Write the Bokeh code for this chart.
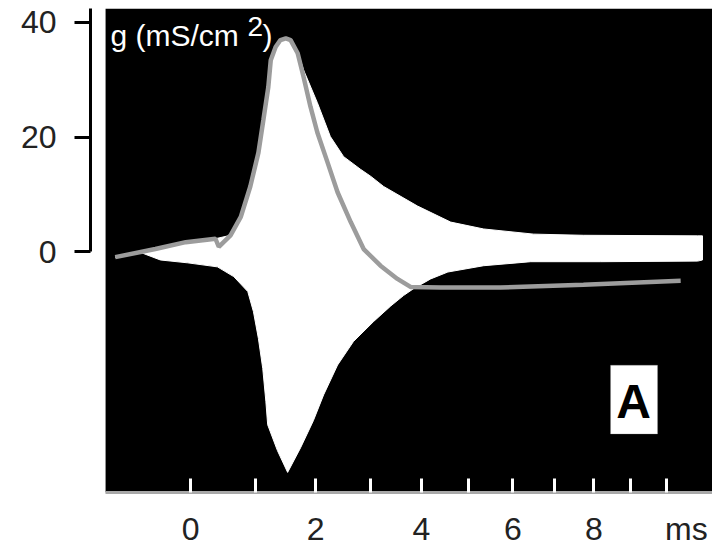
from bokeh.plotting import figure
from bokeh.models import Range1d, FixedTicker, BoxAnnotation, Label
from bokeh.embed import file_html
from bokeh.resources import INLINE

# ---------------- data (time in ms, conductance in mS/cm^2) ----------------
# gray trace: g(t)
g_t = [-1.04, -0.50, -0.07, 0.37, 0.42, 0.60, 0.76, 0.91, 1.04, 1.12, 1.20, 1.24,
       1.32, 1.40, 1.49, 1.57, 1.69, 1.79, 1.91, 2.03, 2.21, 2.39, 2.63, 2.87,
       3.19, 3.52, 3.78, 4.40, 5.71, 7.73, 10.43]
g_val = [-0.9, 0.5, 1.7, 2.3, 0.9, 2.9, 6.1, 11.4, 17.3, 23.0, 28.7, 33.4,
         35.7, 36.9, 37.2, 36.9, 34.6, 30.5, 25.3, 20.8, 15.6, 10.4, 5.2, 0.5,
         -2.4, -4.7, -6.1, -6.2, -6.2, -5.7, -5.0]

# white envelope: upper edge
up_t = [-1.04, -0.50, -0.07, 0.37, 0.60, 0.76, 0.91, 1.04, 1.12, 1.20, 1.24,
        1.32, 1.40, 1.49, 1.57, 1.69, 1.79, 2.03, 2.26, 2.50, 2.81, 3.00, 3.25,
        3.92, 4.61, 5.33, 6.49, 7.73, 10.94, 11.09]
up_val = [-0.9, 0.5, 1.7, 2.3, 2.9, 6.1, 11.4, 17.3, 23.0, 28.7, 33.4,
          35.7, 36.9, 37.3, 37.0, 35.0, 31.7, 26.0, 20.1, 16.6, 14.4, 13.2, 11.4,
          8.0, 5.2, 4.0, 3.1, 2.9, 2.8, 2.8]

# white envelope: lower edge
low_t = [-0.70, -0.43, -0.04, 0.40, 0.65, 0.87, 0.96, 1.04, 1.11, 1.16, 1.19,
         1.35, 1.52, 1.74, 1.96, 2.14, 2.39, 2.68, 3.06, 3.39, 3.64, 3.84, 4.19,
         4.55, 5.33, 6.42, 8.18, 10.94, 11.09]
low_val = [-0.1, -1.4, -1.9, -2.6, -4.3, -6.9, -10.4, -15.1, -20.3, -26.0, -30.1,
           -34.6, -38.4, -34.1, -29.4, -24.9, -19.7, -15.6, -12.1, -9.4, -7.6, -6.4, -4.7,
           -3.5, -2.4, -1.7, -1.7, -1.6, -1.4]

# axis ticks (ms)
x_tick_marks_ms = [0, 1, 2, 3, 4, 5, 6, 7, 8, 9, 10]
x_label_ms = [0, 2, 4, 6, 8, 10.6]
x_labels = ["0", "2", "4", "6", "8", "ms"]
y_ticks = [0, 20, 40]

# the time axis of the figure is compressed: log scale of (t + offset)
LOG_OFFSET = 10.0


def tx(ts):
    return [t + LOG_OFFSET for t in ts]


FONT = "Liberation Sans"

p = figure(width=712, height=549, x_axis_type="log",
           x_range=Range1d(8.643, 21.40), y_range=Range1d(-41.9, 42.4),
           output_backend="svg", toolbar_location=None,
           min_border_left=90, min_border_right=0, min_border_top=8,
           min_border_bottom=54)
p.grid.visible = False
p.outline_line_color = None
p.background_fill_color = "white"
p.border_fill_color = "white"

# black panel
p.add_layout(BoxAnnotation(left=8.835, fill_color="black", fill_alpha=1.0,
                           line_alpha=0, level="underlay"))

# white envelope
xs = tx(up_t) + tx(low_t[::-1])
ys = up_val + low_val[::-1]
p.patch(xs, ys, fill_color="white", line_color="white", line_width=1)

# gray conductance trace
p.line(tx(g_t), g_val, line_color="#9c9c9c", line_width=4.5)

# x axis: labelled positions carry no tick mark; the white marks are the minor ticks
xa = p.xaxis[0]
xa.ticker = FixedTicker(ticks=tx(x_label_ms), minor_ticks=tx(x_tick_marks_ms))
xa.major_label_overrides = {t + LOG_OFFSET: lab for t, lab in zip(x_label_ms, x_labels)}
xa.bounds = (8.835, 21.4)
xa.axis_line_color = "#a8a8a8"
xa.axis_line_width = 3
xa.major_tick_in = 0
xa.major_tick_out = 0
xa.minor_tick_in = 14
xa.minor_tick_out = 0
xa.minor_tick_line_color = "white"
xa.minor_tick_line_width = 3
xa.major_label_text_font = FONT
xa.major_label_text_font_size = "32px"
xa.major_label_text_color = "#222222"
xa.major_label_standoff = 18

# y axis
ya = p.yaxis[0]
ya.ticker = FixedTicker(ticks=y_ticks, minor_ticks=[])
ya.bounds = (0, 42.4)
ya.axis_line_color = "black"
ya.axis_line_width = 3
ya.major_tick_out = 16
ya.major_tick_in = 0
ya.major_tick_line_width = 3
ya.minor_tick_out = 0
ya.minor_tick_in = 0
ya.major_label_text_font = FONT
ya.major_label_text_font_size = "32px"
ya.major_label_text_color = "#222222"
ya.major_label_standoff = 18

# texts
p.add_layout(Label(x=8.899, y=34.8, text="g (mS/cm", text_color="white",
                   text_font=FONT, text_font_size="30px"))
p.add_layout(Label(x=10.866, y=37.6, text="2", text_color="white",
                   text_font=FONT, text_font_size="28px"))
p.add_layout(Label(x=11.107, y=34.8, text=")", text_color="white",
                   text_font=FONT, text_font_size="30px"))

p.add_layout(BoxAnnotation(left=18.445, right=19.753, top=-19.74, bottom=-31.69,
                           fill_color="white", fill_alpha=1.0,
                           line_color="#9a9a9a", line_width=1))
p.add_layout(Label(x=19.075, y=-30.65, text="A", text_align="center",
                   text_color="black", text_font=FONT, text_font_style="bold",
                   text_font_size="48px"))

open("out.html", "w").write(file_html(p, INLINE))
